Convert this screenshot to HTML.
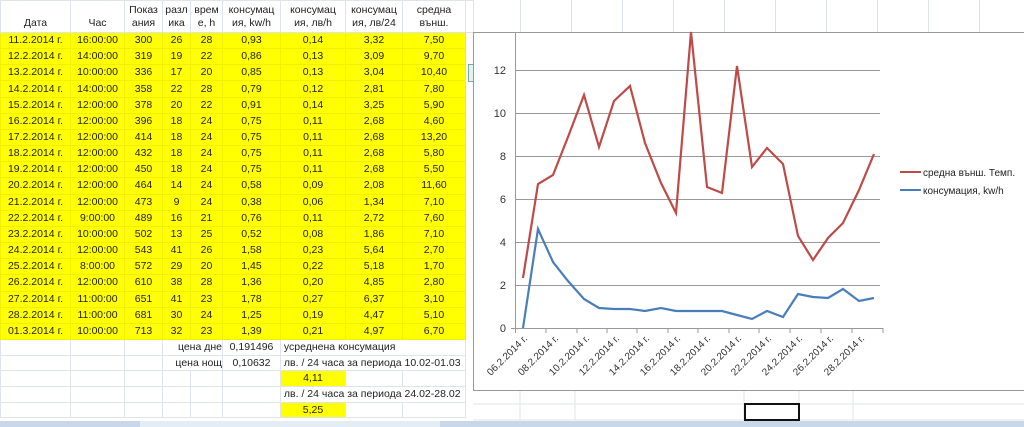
<!DOCTYPE html>
<html><head><meta charset="utf-8"><style>
body{margin:0;width:1024px;height:427px;overflow:hidden;background:#fff;position:relative;font-family:"Liberation Sans","DejaVu Sans",sans-serif;}
table{position:absolute;left:0;top:0;border-collapse:collapse;table-layout:fixed;font-size:10.5px;color:#222;}
td{padding:0;text-align:center;border:1px solid #dfe3ea;height:15.17px;box-sizing:content-box;line-height:13px;white-space:nowrap;overflow:visible}
tr.h td{height:29px;line-height:13px;vertical-align:bottom;padding-bottom:2px}
tr.y td{background:#ffff00;border-color:#f0f000}
tr.b td{height:14.7px}
td.l{text-align:left}
td.r{text-align:right}
.yc{background:#ffff00}
</style></head><body>
<div style="position:absolute;left:470px;top:0;width:554px;height:32px;background:repeating-linear-gradient(90deg,#fff 0,#fff 50px,#dde2ea 50px,#dde2ea 51px);"></div>
<table>
<colgroup><col style="width:70px"><col style="width:54px"><col style="width:38px"><col style="width:28px"><col style="width:32px"><col style="width:58px"><col style="width:65px"><col style="width:57px"><col style="width:63px"><col style="width:8px"></colgroup>
<tr class="h"><td>Дата</td><td>Час</td><td>Показ<br>ания</td><td>разл<br>ика</td><td>врем<br>е, h</td><td>консумац<br>ия, kw/h</td><td>консумац<br>ия, лв/h</td><td>консумац<br>ия, лв/24</td><td>средна<br>външ.</td><td></td></tr>
<tr class="y"><td>11.2.2014 г.</td><td>16:00:00</td><td>300</td><td>26</td><td>28</td><td>0,93</td><td>0,14</td><td>3,32</td><td>7,50</td></tr>
<tr class="y"><td>12.2.2014 г.</td><td>14:00:00</td><td>319</td><td>19</td><td>22</td><td>0,86</td><td>0,13</td><td>3,09</td><td>9,70</td></tr>
<tr class="y"><td>13.2.2014 г.</td><td>10:00:00</td><td>336</td><td>17</td><td>20</td><td>0,85</td><td>0,13</td><td>3,04</td><td>10,40</td></tr>
<tr class="y"><td>14.2.2014 г.</td><td>14:00:00</td><td>358</td><td>22</td><td>28</td><td>0,79</td><td>0,12</td><td>2,81</td><td>7,80</td></tr>
<tr class="y"><td>15.2.2014 г.</td><td>12:00:00</td><td>378</td><td>20</td><td>22</td><td>0,91</td><td>0,14</td><td>3,25</td><td>5,90</td></tr>
<tr class="y"><td>16.2.2014 г.</td><td>12:00:00</td><td>396</td><td>18</td><td>24</td><td>0,75</td><td>0,11</td><td>2,68</td><td>4,60</td></tr>
<tr class="y"><td>17.2.2014 г.</td><td>12:00:00</td><td>414</td><td>18</td><td>24</td><td>0,75</td><td>0,11</td><td>2,68</td><td>13,20</td></tr>
<tr class="y"><td>18.2.2014 г.</td><td>12:00:00</td><td>432</td><td>18</td><td>24</td><td>0,75</td><td>0,11</td><td>2,68</td><td>5,80</td></tr>
<tr class="y"><td>19.2.2014 г.</td><td>12:00:00</td><td>450</td><td>18</td><td>24</td><td>0,75</td><td>0,11</td><td>2,68</td><td>5,50</td></tr>
<tr class="y"><td>20.2.2014 г.</td><td>12:00:00</td><td>464</td><td>14</td><td>24</td><td>0,58</td><td>0,09</td><td>2,08</td><td>11,60</td></tr>
<tr class="y"><td>21.2.2014 г.</td><td>12:00:00</td><td>473</td><td>9</td><td>24</td><td>0,38</td><td>0,06</td><td>1,34</td><td>7,10</td></tr>
<tr class="y"><td>22.2.2014 г.</td><td>9:00:00</td><td>489</td><td>16</td><td>21</td><td>0,76</td><td>0,11</td><td>2,72</td><td>7,60</td></tr>
<tr class="y"><td>23.2.2014 г.</td><td>10:00:00</td><td>502</td><td>13</td><td>25</td><td>0,52</td><td>0,08</td><td>1,86</td><td>7,10</td></tr>
<tr class="y"><td>24.2.2014 г.</td><td>12:00:00</td><td>543</td><td>41</td><td>26</td><td>1,58</td><td>0,23</td><td>5,64</td><td>2,70</td></tr>
<tr class="y"><td>25.2.2014 г.</td><td>8:00:00</td><td>572</td><td>29</td><td>20</td><td>1,45</td><td>0,22</td><td>5,18</td><td>1,70</td></tr>
<tr class="y"><td>26.2.2014 г.</td><td>12:00:00</td><td>610</td><td>38</td><td>28</td><td>1,36</td><td>0,20</td><td>4,85</td><td>2,80</td></tr>
<tr class="y"><td>27.2.2014 г.</td><td>11:00:00</td><td>651</td><td>41</td><td>23</td><td>1,78</td><td>0,27</td><td>6,37</td><td>3,10</td></tr>
<tr class="y"><td>28.2.2014 г.</td><td>11:00:00</td><td>681</td><td>30</td><td>24</td><td>1,25</td><td>0,19</td><td>4,47</td><td>5,10</td></tr>
<tr class="y"><td>01.3.2014 г.</td><td>10:00:00</td><td>713</td><td>32</td><td>23</td><td>1,39</td><td>0,21</td><td>4,97</td><td>6,70</td></tr>
<tr class="b"><td></td><td></td><td></td><td colspan="2" class="r">цена дне</td><td>0,191496</td><td colspan="3" class="l">&nbsp;усреднена консумация</td></tr>
<tr class="b"><td></td><td></td><td></td><td colspan="2" class="r">цена нощ</td><td>0,10632</td><td colspan="3" class="l">&nbsp;лв. / 24 часа за периода 10.02-01.03</td></tr>
<tr class="b"><td></td><td></td><td></td><td></td><td></td><td></td><td class="yc">4,11</td><td></td><td></td></tr>
<tr class="b"><td></td><td></td><td></td><td></td><td></td><td></td><td colspan="3" class="l">&nbsp;лв. / 24 часа за периода 24.02-28.02</td></tr>
<tr class="b"><td></td><td></td><td></td><td></td><td></td><td></td><td class="yc">5,25</td><td></td><td></td></tr>
</table>
<div style="position:absolute;left:468px;top:64px;width:6px;height:16px;background:#dff3f3;border:1px solid #7a9"></div>
<svg style="position:absolute;left:0;top:0" width="1024" height="427">
<rect x="473.5" y="32.5" width="560" height="358" fill="#fff" stroke="#999"/>
<g stroke="#999" stroke-width="1">
<line x1="516" y1="70.5" x2="880" y2="70.5"/><line x1="516" y1="113.5" x2="880" y2="113.5"/><line x1="516" y1="156.5" x2="880" y2="156.5"/><line x1="516" y1="199.5" x2="880" y2="199.5"/><line x1="516" y1="242.5" x2="880" y2="242.5"/><line x1="516" y1="285.5" x2="880" y2="285.5"/><line x1="511" y1="328.5" x2="883" y2="328.5"/>
<line x1="515.5" y1="32" x2="515.5" y2="328"/>
<line x1="515.5" y1="328" x2="515.5" y2="333"/><line x1="546" y1="328" x2="546" y2="333"/><line x1="577" y1="328" x2="577" y2="333"/><line x1="607" y1="328" x2="607" y2="333"/><line x1="637" y1="328" x2="637" y2="333"/><line x1="668" y1="328" x2="668" y2="333"/><line x1="698" y1="328" x2="698" y2="333"/><line x1="729" y1="328" x2="729" y2="333"/><line x1="759" y1="328" x2="759" y2="333"/><line x1="790" y1="328" x2="790" y2="333"/><line x1="821" y1="328" x2="821" y2="333"/><line x1="852" y1="328" x2="852" y2="333"/><line x1="883" y1="328" x2="883" y2="333"/>
</g>
<g font-size="11" fill="#333" text-anchor="end">
<text x="506" y="332">0</text><text x="506" y="289">2</text><text x="506" y="246">4</text><text x="506" y="203">6</text><text x="506" y="160">8</text><text x="506" y="117">10</text><text x="506" y="74">12</text>
</g>
<g font-size="10" fill="#333" text-anchor="end">
<text transform="translate(528,339) rotate(-45)">06.2.2014 г.</text>
<text transform="translate(559,339) rotate(-45)">08.2.2014 г.</text>
<text transform="translate(590,339) rotate(-45)">10.2.2014 г.</text>
<text transform="translate(620,339) rotate(-45)">12.2.2014 г.</text>
<text transform="translate(650,339) rotate(-45)">14.2.2014 г.</text>
<text transform="translate(681,339) rotate(-45)">16.2.2014 г.</text>
<text transform="translate(711,339) rotate(-45)">18.2.2014 г.</text>
<text transform="translate(742,339) rotate(-45)">20.2.2014 г.</text>
<text transform="translate(772,339) rotate(-45)">22.2.2014 г.</text>
<text transform="translate(803,339) rotate(-45)">24.2.2014 г.</text>
<text transform="translate(834,339) rotate(-45)">26.2.2014 г.</text>
<text transform="translate(865,339) rotate(-45)">28.2.2014 г.</text>
</g>
<polyline fill="none" stroke="#be4b48" stroke-width="2.2" points="523,278 538,184 553,175 568,137 584,95 599,147 614,101 630,86 645,143 661,183 676,213 691,32 707,187 722,193 737,66 752,167 767,148 783,164 798,236 813,260 828,238 843,223 859,190 874,154"/>
<polyline fill="none" stroke="#4a7ebb" stroke-width="2.2" points="523,328 538,229 553,262 568,281 584,299 599,308 614,309 630,309 645,311 661,308 676,311 691,311 707,311 722,311 737,315 752,319 767,311 783,317 798,294 813,297 828,298 843,289 859,301 874,298"/>
<line x1="900" y1="172" x2="921" y2="172" stroke="#be4b48" stroke-width="2"/>
<line x1="900" y1="190" x2="921" y2="190" stroke="#4a7ebb" stroke-width="2"/>
<g font-size="10" fill="#222"><text x="923" y="176">средна външ. Темп.</text><text x="923" y="194">консумация, kw/h</text></g>
<g stroke="#dfe3ea"><line x1="473" y1="404" x2="1024" y2="404"/><line x1="473" y1="420" x2="1024" y2="420"/><line x1="520" y1="391" x2="520" y2="420"/><line x1="575" y1="391" x2="575" y2="420"/><line x1="744" y1="391" x2="744" y2="420"/><line x1="799" y1="391" x2="799" y2="420"/><line x1="853" y1="391" x2="853" y2="420"/></g>
<rect x="745" y="404" width="54" height="16" fill="none" stroke="#111" stroke-width="2"/>
<rect x="0" y="421" width="1024" height="6" fill="#c9d7ea"/>
<rect x="140" y="421" width="300" height="6" fill="#e4ecf6"/>
</svg>
</body></html>
